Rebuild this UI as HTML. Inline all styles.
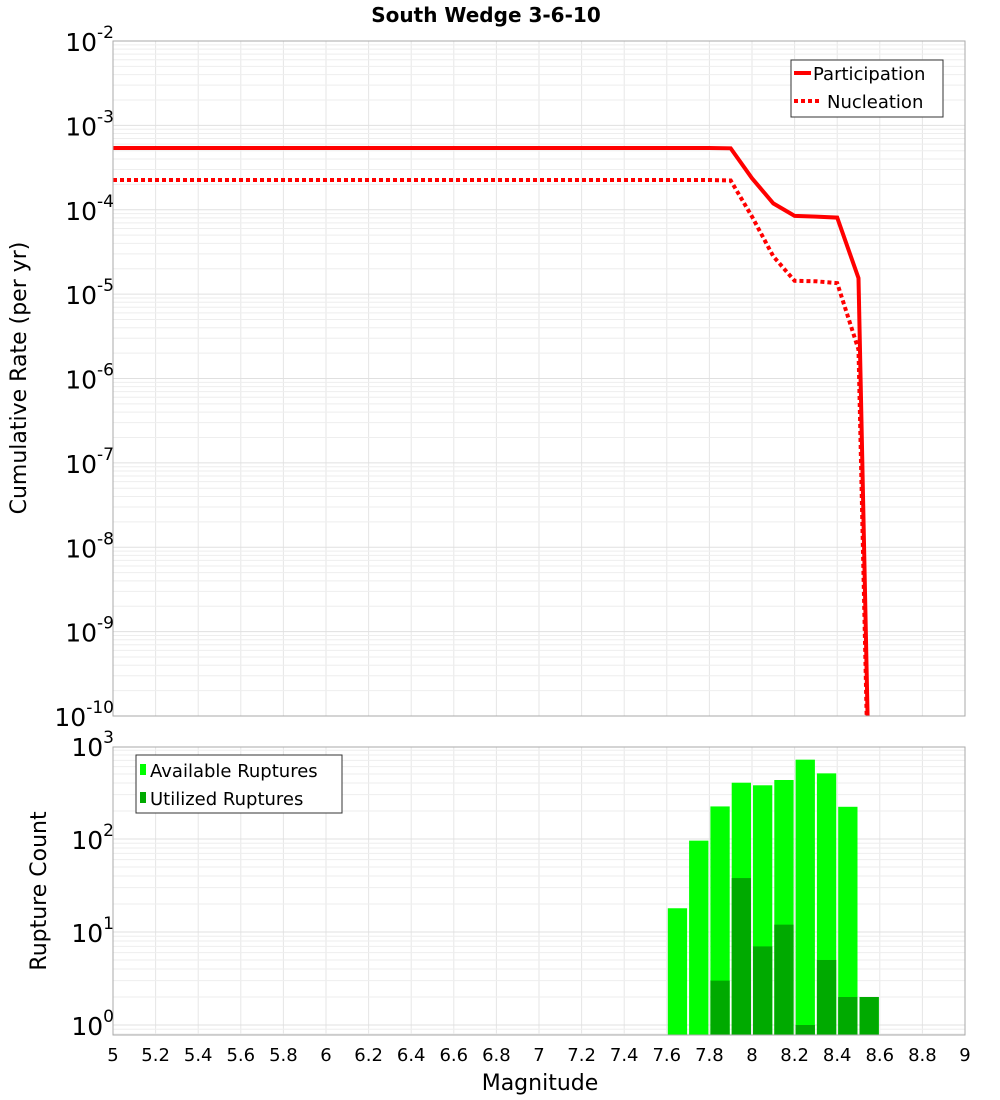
<!DOCTYPE html>
<html><head><meta charset="utf-8"><style>
html,body{margin:0;background:#fff;overflow:hidden;width:1000px;height:1100px;}
svg{display:block;font-family:"DejaVu Sans","Liberation Sans",sans-serif;}
</style></head><body>
<svg id="c" width="1000" height="1100"></svg>
<script>
const mags=[5.0,5.1,5.2,5.3,5.4,5.5,5.6,5.7,5.8,5.9,6.0,6.1,6.2,6.3,6.4,6.5,6.6,6.7,6.8,6.9,7.0,7.1,7.2,7.3,7.4,7.5,7.6,7.7,7.8,7.9,8.0,8.1,8.2,8.3,8.4,8.5,8.6];
const participation=[5.4e-4,5.4e-4,5.4e-4,5.4e-4,5.4e-4,5.4e-4,5.4e-4,5.4e-4,5.4e-4,5.4e-4,5.4e-4,5.4e-4,5.4e-4,5.4e-4,5.4e-4,5.4e-4,5.4e-4,5.4e-4,5.4e-4,5.4e-4,5.4e-4,5.4e-4,5.4e-4,5.4e-4,5.4e-4,5.4e-4,5.4e-4,5.4e-4,5.4e-4,5.35e-4,2.36e-4,1.19e-4,8.45e-5,8.3e-5,8.07e-5,1.55e-5,1e-17];
const nucleation=[2.25e-4,2.25e-4,2.25e-4,2.25e-4,2.25e-4,2.25e-4,2.25e-4,2.25e-4,2.25e-4,2.25e-4,2.25e-4,2.25e-4,2.25e-4,2.25e-4,2.25e-4,2.25e-4,2.25e-4,2.25e-4,2.25e-4,2.25e-4,2.25e-4,2.25e-4,2.25e-4,2.25e-4,2.25e-4,2.25e-4,2.25e-4,2.25e-4,2.25e-4,2.22e-4,8.3e-5,2.8e-5,1.44e-5,1.42e-5,1.35e-5,2.2e-6,1e-17];
const binCenters=[7.65,7.75,7.85,7.95,8.05,8.15,8.25,8.35,8.45,8.55];
const available=[18,96,224,403,378,431,713,508,222,2];
const utilized=[0,0,3,38,7,12,1,5,2,2];
const xTicks=[5,5.2,5.4,5.6,5.8,6,6.2,6.4,6.6,6.8,7,7.2,7.4,7.6,7.8,8,8.2,8.4,8.6,8.8,9];
const topExps=[-2,-3,-4,-5,-6,-7,-8,-9,-10];
const botExps=[3,2,1,0];

const NS="http://www.w3.org/2000/svg";
const svg=document.getElementById('c');
function el(t,a,p){const e=document.createElementNS(NS,t);for(const k in a)e.setAttribute(k,a[k]);(p||svg).appendChild(e);return e;}
const L=113,R=965,T1=41,B1=716,T2=747,B2=1035;
const X=m=>L+(m-5)/4*(R-L);
const Y1=v=>T1+(-2-Math.log10(v))*(B1-T1)/8;
const Y2=v=>1025-Math.log10(v)*93;

const defs=el('defs',{});
const cp1=el('clipPath',{id:'cp1'},defs);el('rect',{x:L,y:T1,width:R-L,height:B1-T1},cp1);
const cp2=el('clipPath',{id:'cp2'},defs);el('rect',{x:L,y:T2,width:R-L,height:B2-T2},cp2);

const g1=el('g',{'clip-path':'url(#cp1)'});


const g2=el('g',{'clip-path':'url(#cp2)'});


for(const m of xTicks){
  el('line',{x1:X(m),x2:X(m),y1:T1,y2:B1,stroke:'#e6e6e6','stroke-width':1},g1);
  el('line',{x1:X(m),x2:X(m),y1:T2,y2:B2,stroke:'#e6e6e6','stroke-width':1},g2);
}
for(let e=-10;e<-2;e++)for(let k=1;k<10;k++){const y=Y1(k*Math.pow(10,e));el('line',{x1:L,x2:R,y1:y,y2:y,stroke:k==1?'#e0e0e0':'#eeeeee','stroke-width':1},g1);}
for(let e=-1;e<3;e++)for(let k=1;k<10;k++){const y=Y2(k*Math.pow(10,e));el('line',{x1:L,x2:R,y1:y,y2:y,stroke:k==1?'#e0e0e0':'#eeeeee','stroke-width':1},g2);}

function pts(arr,Y){return mags.map((m,i)=>X(m).toFixed(1)+','+Y(arr[i]).toFixed(1)).join(' ');}
const lp=el('polyline',{points:pts(participation,Y1),fill:'none',stroke:'#ff0000','stroke-width':4,'clip-path':'url(#cp1)'});


const ln=el('polyline',{points:pts(nucleation,Y1),fill:'none',stroke:'#ff0000','stroke-width':4,'stroke-dasharray':'4,3','clip-path':'url(#cp1)'});



const bw=(X(5.1)-X(5))-2;
binCenters.forEach((c,i)=>{
  const x=X(c)-bw/2;
  if(available[i]>0){
    const r=el('rect',{x:x,y:Y2(available[i]),width:bw,height:B2-Y2(available[i]),fill:'#00ff00'},g2);
    
    
  }
  if(utilized[i]>0){
    const r=el('rect',{x:x,y:Y2(utilized[i]),width:bw,height:B2-Y2(utilized[i]),fill:'#00aa00'},g2);
    
    
  }
});

const f1=el('rect',{x:L,y:T1,width:R-L,height:B1-T1,fill:'none',stroke:'#aaaaaa','stroke-width':1});


const f2=el('rect',{x:L,y:T2,width:R-L,height:B2-T2,fill:'none',stroke:'#aaaaaa','stroke-width':1});



function powLabel(x,y,e,name){
  const t=el('text',{x:x,y:y,'text-anchor':'end','font-size':25,fill:'#000'});
  
  
  const a=document.createElementNS(NS,'tspan');a.textContent='10';t.appendChild(a);
  const b=document.createElementNS(NS,'tspan');b.setAttribute('dy','-13');b.setAttribute('font-size','17');b.textContent=String(e);t.appendChild(b);
}
topExps.forEach(e=>{powLabel(114,Y1(Math.pow(10,e))+10,e,'y-tick-label');});
botExps.forEach(e=>{powLabel(114,Y2(Math.pow(10,e))+10,e,'y2-tick-label');});

xTicks.forEach(m=>{
  const t=el('text',{x:X(m),y:1061,'text-anchor':'middle','font-size':18,fill:'#000'});
  
  
  t.textContent=String(m);
});

function txt(s,a,name){const t=el('text',a);t.textContent=s;return t;}
txt('South Wedge 3-6-10',{x:486,y:22,'text-anchor':'middle','font-size':20,'font-weight':'bold'},'chart-title');
txt('Magnitude',{x:540,y:1090,'text-anchor':'middle','font-size':22},'x-axis-title');
txt('Cumulative Rate (per yr)',{x:0,y:0,'text-anchor':'middle','font-size':22,transform:'translate(26,378) rotate(-90)'},'y-axis-title');
txt('Rupture Count',{x:0,y:0,'text-anchor':'middle','font-size':22,transform:'translate(46,891) rotate(-90)'},'y2-axis-title');

const lg1=el('g',{});


el('rect',{x:791,y:60,width:152,height:57,fill:'#fff',stroke:'#333','stroke-width':1},lg1);
el('line',{x1:794,x2:811,y1:73,y2:73,stroke:'#f00','stroke-width':4},lg1);
el('line',{x1:794,x2:822,y1:101,y2:101,stroke:'#f00','stroke-width':4,'stroke-dasharray':'4,3'},lg1);
txt('Participation',{x:813,y:80,'font-size':18},'legend-participation');
txt('Nucleation',{x:827,y:108,'font-size':18},'legend-nucleation');
const lg2=el('g',{});


el('rect',{x:136,y:755,width:206,height:58,fill:'#fff',stroke:'#333','stroke-width':1},lg2);
el('rect',{x:140,y:764,width:6,height:11,fill:'#00ff00'},lg2);
el('rect',{x:140,y:792,width:6,height:11,fill:'#00aa00'},lg2);
txt('Available Ruptures',{x:150,y:777,'font-size':18},'legend-available');
txt('Utilized Ruptures',{x:150,y:805,'font-size':18},'legend-utilized');
</script>
</body></html>
